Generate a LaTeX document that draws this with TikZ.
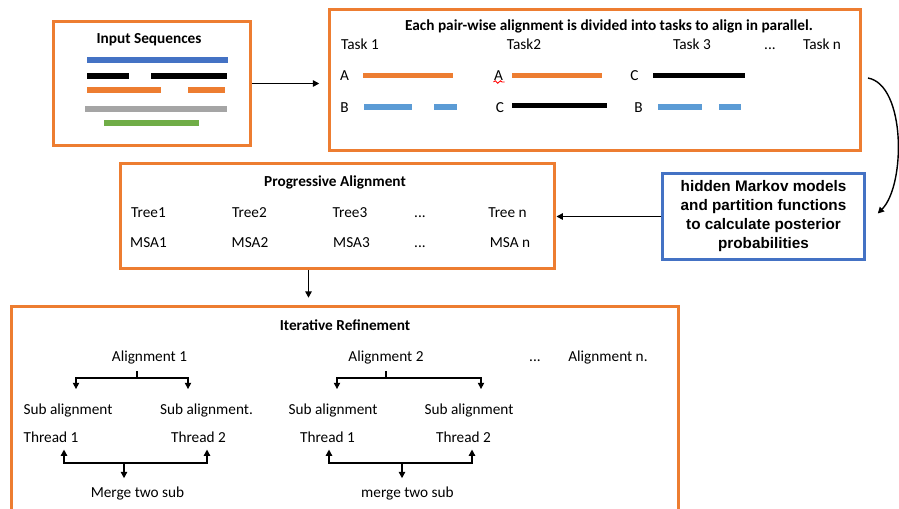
\documentclass[tikz,border=0pt]{standalone}
\usepackage{fontspec}
\setmainfont{Carlito}
\newfontfamily\arialfont{Liberation Sans}
\usetikzlibrary{arrows.meta,positioning,decorations.pathmorphing}
\definecolor{boxorange}{HTML}{ED7D31}
\definecolor{boxblue}{HTML}{4472C4}
\definecolor{seqblue}{HTML}{5B9BD5}
\definecolor{seqgray}{HTML}{A5A5A5}
\definecolor{seqgreen}{HTML}{70AD47}

\begin{document}
\begin{tikzpicture}[x=0.02cm, y=-0.02cm,
      obox/.style={draw=boxorange, line width=1.7pt},
      hbox/.style={draw=boxblue, line width=1.7pt, align=center,
                   font=\arialfont\bfseries\fontsize{8.7}{10.8}\selectfont},
      txt/.style={font=\fontsize{8.7}{10.5}\selectfont, text height=6.2pt, text depth=1.7pt},
      ttl/.style={font=\bfseries\fontsize{8.7}{10.5}\selectfont},
      arr/.style={-{Triangle[length=3.6pt,width=3.6pt]}, line width=0.8pt},
      bar/.style={line width=3.4pt}
  ]
    \useasboundingbox (0,0) rectangle (899,508);
    \clip (0,0) rectangle (899,508);

    % boxes
    \node[obox, minimum width=3.95cm, minimum height=2.48cm] (inbox) at (152,83.5) {};
    \node[obox, minimum width=10.62cm, minimum height=2.81cm] (topbox) at (595,80) {};
    \node[hbox, minimum width=4.03cm, minimum height=1.73cm] (hmm) at (763.5,216.5)
      {hidden Markov models\\ and partition functions\\ to calculate posterior\\ probabilities};
    \node[obox, minimum width=8.7cm, minimum height=2.1cm] (progbox) at (337.5,216) {};
    \node[obox, minimum width=13.34cm, minimum height=4.47cm] (refbox) at (345,418) {};

    % input sequences
    \node[ttl] (inttl) at (149,40) {Input Sequences};
    \draw[bar, boxblue] (87,60) -- (228,60);
    \draw[bar, black] (87,76) -- (129,76) (151,76) -- (227,76);
    \draw[bar, boxorange] (87,90) -- (161,90) (188,90) -- (225,90);
    \draw[bar, seqgray] (85,109) -- (227,109);
    \draw[bar, seqgreen] (104,123) -- (199,123);

    % pair-wise tasks
    \node[ttl] (topttl) at (609,26) {Each pair-wise alignment is divided into tasks to align in parallel.};
    \node[txt] (task1) at (360,46) {Task 1};
    \node[txt] (task2) at (524,46) {Task2};
    \node[txt] (task3) at (692,46) {Task 3};
    \node[txt] (taskdots) at (770,46) {...};
    \node[txt] (taskn) at (822,46) {Task n};
    \node[txt] (a1) at (344.5,77) {A};
    \node[txt] (b1) at (344.5,108.5) {B};
    \node[txt] (a2) at (498.5,77) {A};
    \node[txt] (c2) at (500,109) {C};
    \node[txt] (c3) at (634.5,77) {C};
    \node[txt] (b3) at (638.5,108.5) {B};
    \draw[red, line width=0.5pt, decorate, decoration={snake, amplitude=0.7pt, segment length=3pt}]
      ([shift={(-5,5)}]a2.center) -- ([shift={(6,5)}]a2.center);
    \draw[bar, boxorange] (363,75.5) -- (453,75.5);
    \draw[bar, seqblue] (364,107) -- (412,107) (434,107) -- (457,107);
    \draw[bar, boxorange] (512,75.5) -- (602,75.5);
    \draw[bar, black] (512,105.5) -- (607,105.5);
    \draw[bar, black] (653,75.5) -- (745,75.5);
    \draw[bar, seqblue] (658,107) -- (702,107) (719,107) -- (741,107);

    % progressive alignment
    \node[ttl] (progttl) at (335,182) {Progressive Alignment};
    \node[txt] (tree1) at (148.5,214) {Tree1};
    \node[txt] (tree2) at (249.5,214) {Tree2};
    \node[txt] (tree3) at (350,214) {Tree3};
    \node[txt] (treedots) at (420,214) {...};
    \node[txt] (treen) at (507.5,214) {Tree n};
    \node[txt] (msa1) at (148.5,244) {MSA1};
    \node[txt] (msa2) at (250,244) {MSA2};
    \node[txt] (msa3) at (351.5,244) {MSA3};
    \node[txt] (msadots) at (420,244) {...};
    \node[txt] (msan) at (510,244) {MSA n};

    % iterative refinement
    \node[ttl] (refttl) at (345,325) {Iterative Refinement};
    \node[txt] (al1) at (149.5,358) {Alignment 1};
    \node[txt] (al2) at (386,358) {Alignment 2};
    \node[txt] (aldots) at (535,358) {...};
    \node[txt] (aln) at (608,358) {Alignment n.};
    \node[txt] (sa11) at (68,411) {Sub alignment};
    \node[txt] (sa12) at (206.5,411) {Sub alignment.};
    \node[txt] (sa21) at (333,411) {Sub alignment};
    \node[txt] (sa22) at (469,411) {Sub alignment};
    \node[txt] (th11) at (51,439) {Thread 1};
    \node[txt] (th12) at (198.5,439) {Thread 2};
    \node[txt] (th21) at (327.5,439) {Thread 1};
    \node[txt] (th22) at (463.5,439) {Thread 2};
    \node[txt] (mg1) at (137.5,494) {Merge two sub};
    \node[txt] (mg2) at (407.5,494) {merge two sub};

    % flow between the stages
    \draw[arr, shorten >=5pt] (inbox.east) -- (inbox.east -| topbox.west);
    \draw[arr] ([shift={(6,-2)}]topbox.east) .. controls +(38,7) and +(28,-28) .. ([shift={(12,-3)}]hmm.east);
    \draw[arr] (hmm.west) -- (hmm.west -| progbox.east);
    \draw[arr, shorten >=4pt] ([shift={(-29,0)}]progbox.south) -- ([shift={(-29,0)}]progbox.south |- refbox.north);

    % split and merge, alignment 1
    \coordinate (j1) at (137,378);
    \coordinate (m1) at (124,463);
    \draw[line width=0.8pt] (j1) -- (j1 |- al1.south);
    \draw[arr, shorten >=5pt] (j1) -| (sa11.north -| 76,0);
    \draw[arr, shorten >=5pt] (j1) -| (sa12.north -| 188,0);
    \draw[arr, shorten >=-1.5pt] (m1) -| (th11.south -| 64,0);
    \draw[arr, shorten >=-1.5pt] (m1) -| (th12.south -| 207,0);
    \draw[arr, shorten >=1.5pt] (m1) -- (m1 |- mg1.north);

    % split and merge, alignment 2
    \coordinate (j2) at (386,378);
    \coordinate (m2) at (402,463);
    \draw[line width=0.8pt] (j2) -- (j2 |- al2.south);
    \draw[arr, shorten >=5pt] (j2) -| (sa21.north -| 337,0);
    \draw[arr, shorten >=5pt] (j2) -| (sa22.north -| 481,0);
    \draw[arr, shorten >=-1.5pt] (m2) -| (th21.south -| 329,0);
    \draw[arr, shorten >=-1.5pt] (m2) -| (th22.south -| 472,0);
    \draw[arr, shorten >=1.5pt] (m2) -- (m2 |- mg2.north);
  \end{tikzpicture}
\end{document}
